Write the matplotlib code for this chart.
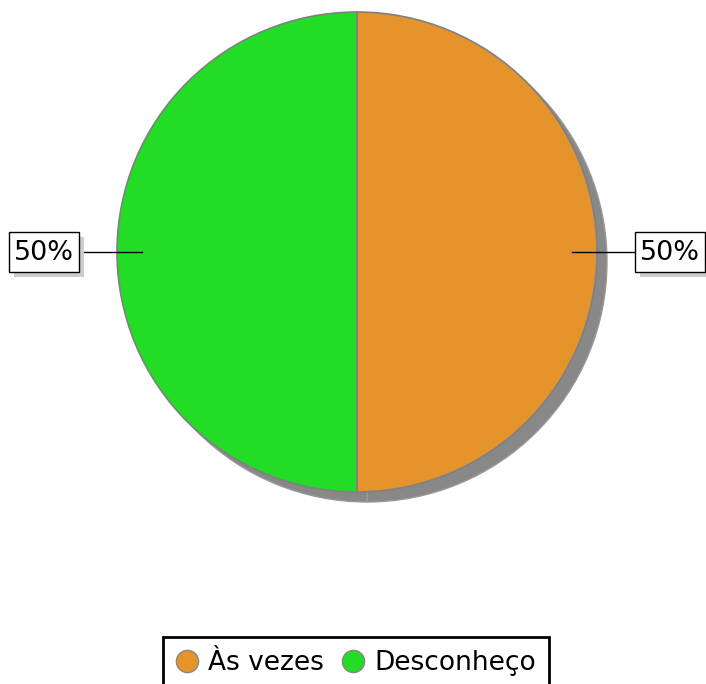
import numpy as np
import matplotlib
matplotlib.use("Agg")
import matplotlib.pyplot as plt
from matplotlib.lines import Line2D
from matplotlib.patches import FancyBboxPatch

labels = ["Às vezes", "Desconheço"]
values = [50, 50]
colors = ["#e5932b", "#22dc26"]

W, H = 706, 684
fig = plt.figure(figsize=(W / 100, H / 100), dpi=100)
ax = fig.add_axes([0, 0, 1, 1])

cx, cy, r = 357, H - 252, 240

# shadow
ax.pie(values, colors=["#888888"] * 2, startangle=90, counterclock=False,
       center=(cx + 10, cy - 10), radius=r, frame=True,
       wedgeprops=dict(linewidth=1, edgecolor="#999999"))
wedges, _ = ax.pie(values, colors=colors, startangle=90, counterclock=False,
                   center=(cx, cy), radius=r, frame=True,
                   wedgeprops=dict(linewidth=1.2, edgecolor="#808080"))
ax.set_xlim(0, W)
ax.set_ylim(0, H)
ax.set_aspect("equal")
ax.axis("off")

# labels with leader lines
total = sum(values)
start = 90
for v in values:
    ang = np.deg2rad(start - v / total * 360 / 2)
    start -= v / total * 360
    side = 1 if np.cos(ang) > 0 else -1
    x_in = cx + 0.895 * r * np.cos(ang)
    y_in = cy + 0.895 * r * np.sin(ang)
    x_box = cx + side * 278
    ax.plot([x_in, x_box], [y_in, y_in], color="black", lw=1, zorder=5)
    bx = x_box if side > 0 else x_box - 70
    ax.add_patch(FancyBboxPatch((bx + 5, y_in - 25), 70, 40, boxstyle="square,pad=0",
                                fc="#cccccc", ec="none", zorder=5))
    ax.add_patch(FancyBboxPatch((bx, y_in - 20), 70, 40, boxstyle="square,pad=0",
                                fc="white", ec="black", lw=1, zorder=6))
    ax.text(bx + 35, y_in - 1, f"{v / total * 100:.0f}%", ha="center", va="center",
            fontsize=19.5, zorder=7)

handles = [Line2D([], [], marker="o", linestyle="none", markersize=16,
                  markerfacecolor=c, markeredgecolor="#888888") for c in colors]
leg = ax.legend(handles, labels, loc="upper center",
                bbox_to_anchor=(0.5 + 3 / W, 1 - 637 / H),
                bbox_transform=fig.transFigure, ncol=2, fontsize=19, frameon=True,
                fancybox=False, handletextpad=0.4, columnspacing=0.7,
                borderpad=0.5, borderaxespad=0, handlelength=0.8, framealpha=1)
leg.get_frame().set_edgecolor("black")
leg.get_frame().set_linewidth(2)

fig.savefig("out.png", dpi=100)
